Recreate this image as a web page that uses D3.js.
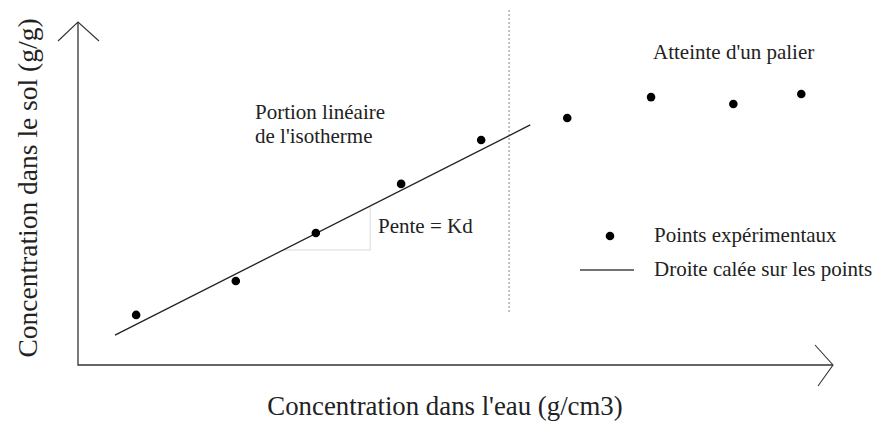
<!DOCTYPE html>
<html>
<head>
<meta charset="utf-8">
<script src="https://cdn.jsdelivr.net/npm/d3@7"></script>
<style>
  body { margin: 0; background: #fff; }
  text { font-family: "Liberation Serif", "Times New Roman", serif; fill: #222; }
</style>
</head>
<body>
<div id="chart"></div>
<script>
// experimental points (arbitrary units, 0-100 on both axes)
const pointsX = [7.7, 20.9, 31.5, 42.8, 53.4, 64.8, 75.9, 86.8, 95.8];
const pointsY = [14.6, 24.5, 38.5, 52.8, 65.6, 72.0, 78.1, 76.1, 79.0];
// fitted line end points
const fitX = [4.9, 59.9];
const fitY = [8.7, 70.0];
// limit of the linear zone
const limitX = 57.1;
const limitY = [15.5, 103.5];
// slope triangle
const slopeX = [27.0, 38.7];
const slopeY = [33.5];

const W = 877, H = 421;
const margin = {top: 22, right: 44, bottom: 56, left: 78};

const svg = d3.select("#chart").append("svg")
  .attr("width", W)
  .attr("height", H);

const x = d3.scaleLinear().domain([0, 100]).range([margin.left, W - margin.right]);
const y = d3.scaleLinear().domain([0, 100]).range([H - margin.bottom, margin.top]);

const line = d3.line()
  .x(function(d){ return x(d[0]); })
  .y(function(d){ return y(d[1]); });

// axes with open arrow heads
const axisStroke = "#333";
svg.append("path")
  .attr("d", line([[0, 100], [0, 0], [100, 0]]))
  .attr("fill", "none").attr("stroke", axisStroke).attr("stroke-width", 1.3);
svg.append("path")
  .attr("d", "M" + (x(0) - 20) + "," + (y(100) + 19) + "L" + x(0) + "," + y(100) + "L" + (x(0) + 21) + "," + (y(100) + 19))
  .attr("fill", "none").attr("stroke", axisStroke).attr("stroke-width", 1.1);
svg.append("path")
  .attr("d", "M" + (x(100) - 18) + "," + (y(0) - 20) + "L" + x(100) + "," + y(0) + "L" + (x(100) - 15) + "," + (y(0) + 21))
  .attr("fill", "none").attr("stroke", axisStroke).attr("stroke-width", 1.1);

// axis titles
svg.append("text")
  .attr("x", 445)
  .attr("y", 415)
  .attr("text-anchor", "middle")
  .style("font-size", "26.8px")
  .text("Concentration dans l'eau (g/cm3)");

svg.append("text")
  .attr("transform", "translate(37," + 188 + ") rotate(-90)")
  .attr("text-anchor", "middle")
  .style("font-size", "27.5px")
  .text("Concentration dans le sol (g/g)");

// limit of linear zone
svg.append("line")
  .attr("x1", x(limitX)).attr("x2", x(limitX))
  .attr("y1", y(limitY[0])).attr("y2", y(limitY[1]))
  .attr("stroke", "#777").attr("stroke-width", 1.2)
  .attr("stroke-dasharray", "1.5,2.5");

// slope triangle (faint)
const fitSlope = (fitY[1] - fitY[0]) / (fitX[1] - fitX[0]);
const slopeStart = fitX[0] + (slopeY[0] - fitY[0]) / fitSlope;
const slopeTop = fitY[0] + (slopeX[1] - fitX[0]) * fitSlope;
svg.append("path")
  .attr("d", line([[slopeStart, slopeY[0]], [slopeX[1], slopeY[0]], [slopeX[1], slopeTop]]))
  .attr("fill", "none").attr("stroke", "#e6e6e6").attr("stroke-width", 1.5);

// fitted line
svg.append("path")
  .attr("d", line(d3.zip(fitX, fitY)))
  .attr("fill", "none").attr("stroke", "#222").attr("stroke-width", 1.3);

// points
svg.selectAll(".pt")
  .data(d3.zip(pointsX, pointsY)).enter()
  .append("circle")
    .attr("class", "pt")
    .attr("cx", function(d){ return x(d[0]); })
    .attr("cy", function(d){ return y(d[1]); })
    .attr("r", 4.3)
    .attr("fill", "#000");

// annotations
const small = "21px";
svg.append("text").attr("x", 255).attr("y", 119).style("font-size", small).text("Portion linéaire");
svg.append("text").attr("x", 255).attr("y", 143).style("font-size", small).text("de l'isotherme");
svg.append("text").attr("x", 378).attr("y", 233).style("font-size", small).text("Pente = Kd");
svg.append("text").attr("x", 653).attr("y", 59).style("font-size", small).text("Atteinte d'un palier");

// legend
svg.append("circle").attr("cx", 610).attr("cy", 236).attr("r", 4.3).attr("fill", "#000");
svg.append("text").attr("x", 654).attr("y", 242).style("font-size", small).text("Points expérimentaux");
svg.append("line").attr("x1", 580).attr("x2", 634).attr("y1", 270).attr("y2", 270)
  .attr("stroke", "#444").attr("stroke-width", 1.3);
svg.append("text").attr("x", 654).attr("y", 276).style("font-size", small).text("Droite calée sur les points");
</script>
</body>
</html>
